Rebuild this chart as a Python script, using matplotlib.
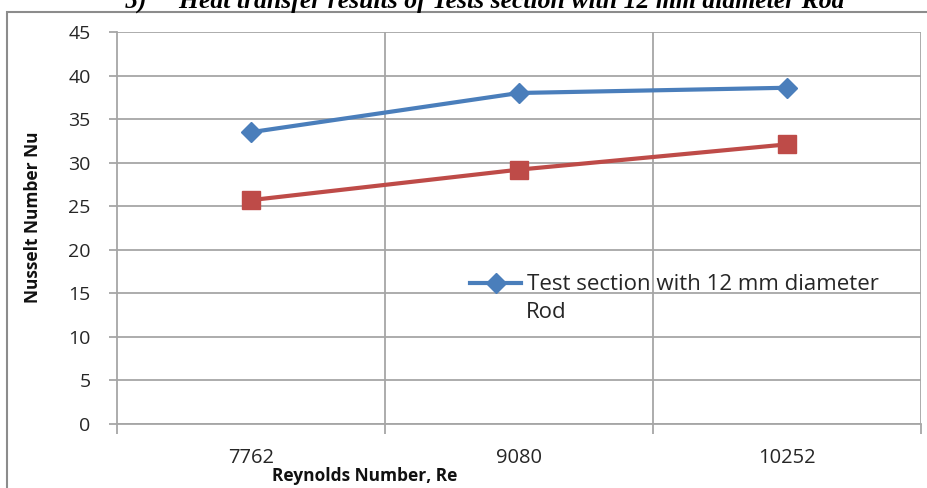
import matplotlib
matplotlib.use("Agg")
import matplotlib.pyplot as plt
from matplotlib.patches import Rectangle

plt.rcParams['font.family'] = ['Open Sans', 'DejaVu Sans']

# Reynolds number categories and Nusselt numbers
reynolds = ["7762", "9080", "10252"]
nu_rod = [33.5, 38.0, 38.6]
nu_plain = [25.7, 29.2, 32.1]
y_ticks = [0, 5, 10, 15, 20, 25, 30, 35, 40, 45]

W, H = 927, 488
fig = plt.figure(figsize=(W / 100, H / 100), dpi=100)
ax = fig.add_axes([117 / W, 1 - 424 / H, (921 - 117) / W, (424 - 32) / H])

grid_c = "#a6a6a6"
txt_c = "#262626"
x = list(range(len(reynolds)))

ax.plot(x, nu_rod, color="#4a7ebb", lw=3, marker="D", ms=10, zorder=3,
        label="Test section with 12 mm diameter")
ax.plot(x, nu_plain, color="#be4b48", lw=3, marker="s", ms=13, zorder=3)

ax.set_xlim(-0.5, len(reynolds) - 0.5)
ax.set_ylim(0, 45)
ax.set_yticks(y_ticks)
ax.set_xticks(x)
ax.set_xticklabels(reynolds)
ax.set_xticks([i + 0.5 for i in x[:-1]] + [-0.5, len(reynolds) - 0.5], minor=True)

ax.grid(axis="y", color=grid_c, lw=1.3)
for xv in [i + 0.5 for i in x]:
    ax.axvline(xv, color=grid_c, lw=1.3, zorder=1)

for s in ["top", "right"]:
    ax.spines[s].set_visible(False)
for s in ["left", "bottom"]:
    ax.spines[s].set_color(grid_c)
    ax.spines[s].set_linewidth(1.3)

ax.tick_params(axis="y", direction="out", length=6, width=1.3, color=grid_c,
               pad=13, labelsize=14, labelcolor=txt_c)
ax.tick_params(axis="x", which="major", length=0, pad=17, labelsize=14.5,
               labelcolor=txt_c)
ax.tick_params(axis="x", which="minor", direction="out", length=7, width=1.3,
               color=grid_c)

leg = ax.legend(loc="center left", bbox_to_anchor=(470 / W, 1 - 285 / H),
                bbox_transform=fig.transFigure, frameon=False, fontsize=16,
                handlelength=2.3, handletextpad=0.25, borderpad=0, borderaxespad=0)
for t in leg.get_texts():
    t.set_color(txt_c)
fig.text(526 / W, 1 - 312 / H, "Rod", fontsize=16, color=txt_c,
         ha="left", va="center")

fig.text(33 / W, 1 - 217 / H, "Nusselt Number Nu", rotation=90, fontsize=12.5,
         fontweight="bold", ha="center", va="center", color="#111111")
fig.text(365 / W, 1 - 476 / H, "Reynolds Number, Re", fontsize=12.5,
         fontweight="bold", ha="center", va="center", color="#111111")

# outer chart frame
fig.patches.append(Rectangle((7 / W, -0.1), 1.2, 1 - 12 / H + 0.1,
                             transform=fig.transFigure, fill=False,
                             edgecolor="#8c8c8c", lw=1.5, zorder=0))

fig.text(485 / W, 1 - 8 / H,
         "5)     Heat transfer results of Tests section with 12 mm diameter Rod",
         family=["Liberation Serif", "DejaVu Serif"], style="italic",
         fontweight="bold", fontsize=18.5, ha="center", va="baseline")

fig.savefig("out.png", dpi=100)
